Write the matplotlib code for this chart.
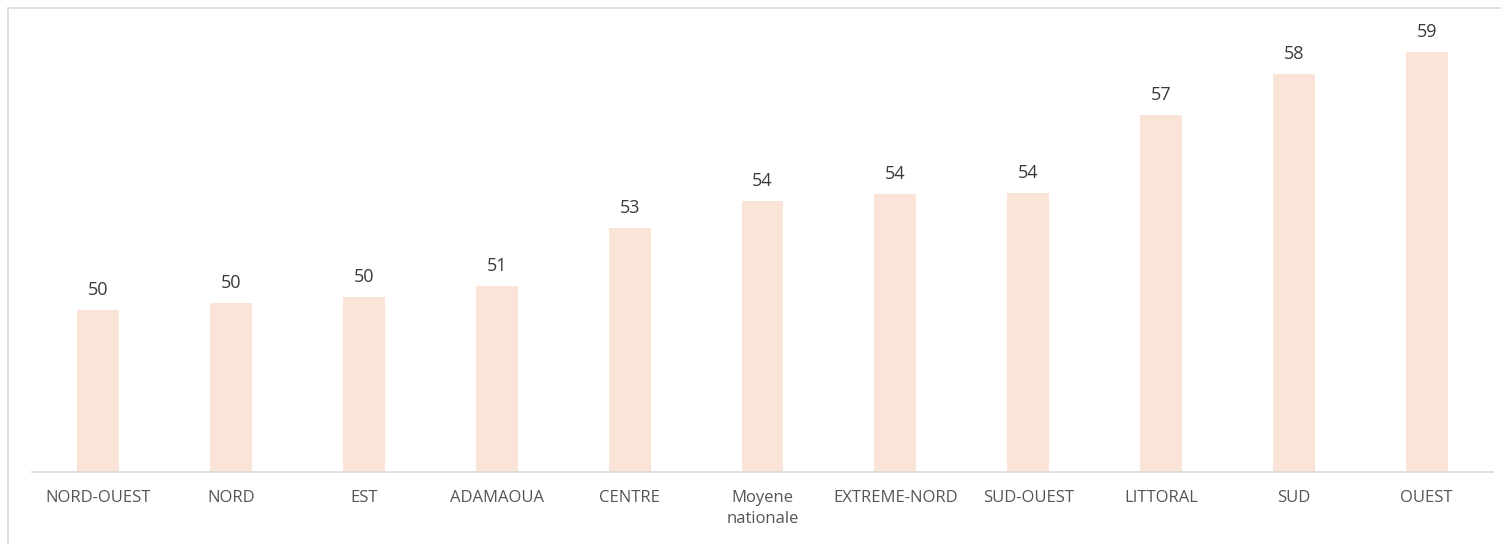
import matplotlib.pyplot as plt
from matplotlib.patches import Rectangle

regions = ["NORD-OUEST", "NORD", "EST", "ADAMAOUA", "CENTRE", "Moyene\nnationale",
           "EXTREME-NORD", "SUD-OUEST", "LITTORAL", "SUD", "OUEST"]
values = [50.0, 50.24, 50.45, 50.82, 52.79, 53.70, 53.94, 53.97, 56.62, 58.01, 58.76]

plt.rcParams['font.family'] = ['Open Sans', 'DejaVu Sans']

fig = plt.figure(figsize=(15.01, 5.44), dpi=100)
# light frame around the chart
fig.patches.append(Rectangle((8 / 1501, -0.1), 1.2, (544 - 8) / 544 + 0.1,
                             transform=fig.transFigure, fill=False,
                             edgecolor="#d9d9d9", linewidth=1.2))

ax = fig.add_axes([32 / 1501, (544 - 472) / 544, (1493 - 32) / 1501, (472 - 8) / 544])

x = range(len(regions))
bars = ax.bar(x, values, width=0.316, color="#fae4d8", bottom=0)
ax.set_ylim(44.5, 60.26)
ax.set_xlim(-0.5, len(regions) - 0.5)

for i, v in enumerate(values):
    ax.annotate(f"{v:.0f}", (i, v), xytext=(0, 8), textcoords="offset points",
                ha="center", va="bottom", fontsize=13, color="#3a3a3a")

ax.set_xticks(list(x))
ax.set_xticklabels(regions, fontsize=12, color="#555555", linespacing=1.45)
ax.tick_params(axis="x", length=0, pad=13)
ax.set_yticks([])
for s in ["top", "right", "left"]:
    ax.spines[s].set_visible(False)
ax.spines["bottom"].set_color("#d9d9d9")
ax.spines["bottom"].set_linewidth(1.2)
for lbl in ax.get_xticklabels():
    lbl.set_verticalalignment("top")

fig.savefig("out.png", dpi=100)
